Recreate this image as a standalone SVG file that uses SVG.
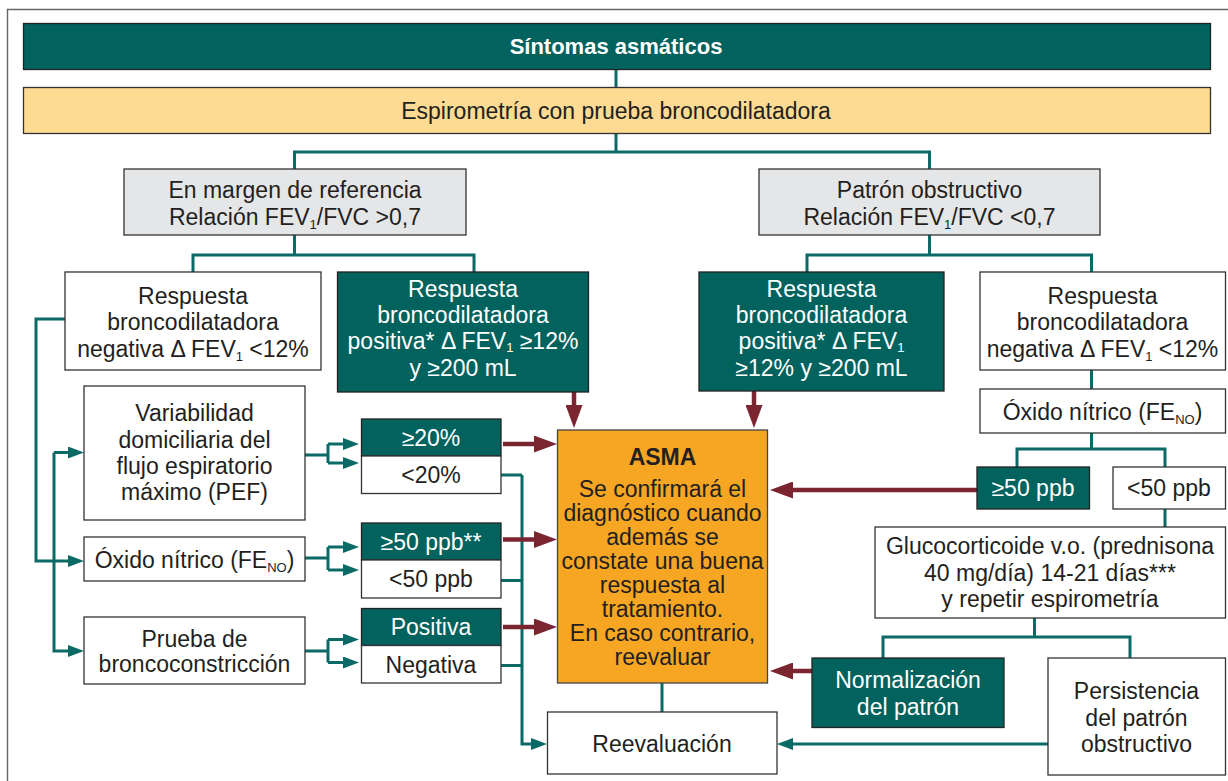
<svg xmlns="http://www.w3.org/2000/svg" width="1228" height="781" viewBox="0 0 1228 781">
<defs>
<style>
text{font-family:"Liberation Sans",Arial,sans-serif;font-size:23px;fill:#231f20;text-anchor:middle}
.w{fill:#fff}
.b{font-weight:bold}
.sub{font-size:13px}
.box{fill:#fff;stroke:#333;stroke-width:1.3}
.teal{fill:#02625e;stroke:#222;stroke-width:1.3}
.gray{fill:#e5e6e8;stroke:#333;stroke-width:1.3}
.yel{fill:#fddb93;stroke:#333;stroke-width:1.3}
.org{fill:#f6a623;stroke:#444;stroke-width:1.3}
.c{fill:none;stroke:#0b6a66;stroke-width:3}
.ca{fill:none;stroke:#0b6a66;stroke-width:3;marker-end:url(#ta)}
.r{fill:none;stroke:#7b2531;stroke-width:4.5;marker-end:url(#ra)}
</style>
<marker id="ta" markerUnits="userSpaceOnUse" markerWidth="16" markerHeight="12" refX="1" refY="6" orient="auto"><path d="M0,0 L16,6 L0,12 z" fill="#0b6a66"/></marker>
<marker id="ra" markerUnits="userSpaceOnUse" markerWidth="23" markerHeight="17" refX="1" refY="8.5" orient="auto"><path d="M0,0 L23,8.5 L0,17 z" fill="#7b2531"/></marker>
</defs>
<rect width="1228" height="781" fill="#fff"/>
<path d="M7.5,781 V9.5 H1228" fill="none" stroke="#666" stroke-width="1.4"/>

<g id="connectors">
<path class="c" d="M616,69 V88"/>
<path class="c" d="M616,133 V152 M294.5,169 V152 H929.5 V169"/>
<path class="c" d="M294.5,235 V255 M193,272 V255 H474 V272"/>
<path class="c" d="M929.5,235 V255 M807,272 V255 H1091.5 V272"/>
<path class="c" d="M1091.5,370 V389"/>
<path class="c" d="M1091.5,433 V449 M1017,467 V449 H1165 V467"/>
<path class="c" d="M1165,509 V527"/>
<path class="c" d="M1034.5,618 V637 M883,658 V637 H1130 V658"/>
<path class="c" d="M662,683 V712"/>
<path class="ca" d="M1048,744 H792"/>
<path class="ca" d="M65,319 H36 V561 H69"/>
<path class="ca" d="M54,452.5 H69"/>
<path class="ca" d="M54,452.5 V651 H69"/>
<path class="c" d="M305,455 H328 M328,444 V463"/>
<path class="ca" d="M328,444 H344"/>
<path class="ca" d="M328,463 H344"/>
<path class="c" d="M305,558 H328 M328,547 V570"/>
<path class="ca" d="M328,547 H344"/>
<path class="ca" d="M328,570 H344"/>
<path class="c" d="M305,651 H328 M328,639.5 V662.5"/>
<path class="ca" d="M328,639.5 H344"/>
<path class="ca" d="M328,662.5 H344"/>
<path class="c" d="M501,475 H522 M501,580.5 H522 M501,665.5 H522"/>
<path class="ca" d="M522,475 V744 H532"/>
<path class="r" d="M503,444 H535"/>
<path class="r" d="M503,539.5 H535"/>
<path class="r" d="M503,627 H535"/>
<path class="r" d="M574,392 V406"/>
<path class="r" d="M754,391 V406"/>
<path class="r" d="M977,490 H792"/>
<path class="r" d="M812,671 H792"/>
</g>

<g id="n-sintomas"><rect class="teal" x="23.5" y="23.5" width="1187" height="46"/><text class="w b" x="616" y="54" style="font-size:22px">Síntomas asmáticos</text></g>
<g id="n-espirometria"><rect class="yel" x="23.5" y="87.5" width="1187" height="46"/><text x="616" y="118.5">Espirometría con prueba broncodilatadora</text></g>
<g id="n-margen"><rect class="gray" x="124" y="169" width="342" height="66"/><text x="295" y="197.5">En margen de referencia</text><text x="295" y="224.5">Relación FEV<tspan class="sub" dy="4">1</tspan><tspan dy="-4">/FVC &gt;0,7</tspan></text></g>
<g id="n-obstructivo"><rect class="gray" x="759" y="169" width="341" height="66"/><text x="929.5" y="197.5">Patrón obstructivo</text><text x="929.5" y="224.5">Relación FEV<tspan class="sub" dy="4">1</tspan><tspan dy="-4">/FVC &lt;0,7</tspan></text></g>
<g id="n-negL"><rect class="box" x="65" y="272" width="256" height="98"/><text x="193" y="304">Respuesta</text><text x="193" y="330">broncodilatadora</text><text x="193" y="356.5">negativa Δ FEV<tspan class="sub" dy="4">1</tspan><tspan dy="-4"> &lt;12%</tspan></text></g>
<g id="n-posL"><rect class="teal" x="337.5" y="272" width="251" height="120"/><text class="w" x="463" y="297">Respuesta</text><text class="w" x="463" y="323">broncodilatadora</text><text class="w" x="463" y="349">positiva* Δ FEV<tspan class="sub" dy="3">1</tspan><tspan dy="-3"> ≥12%</tspan></text><text class="w" x="463" y="376">y ≥200 mL</text></g>
<g id="n-posR"><rect class="teal" x="699" y="272" width="245" height="119"/><text class="w" x="821.5" y="297">Respuesta</text><text class="w" x="821.5" y="323">broncodilatadora</text><text class="w" x="821.5" y="349">positiva* Δ FEV<tspan class="sub" dy="3">1</tspan></text><text class="w" x="821.5" y="376">≥12% y ≥200 mL</text></g>
<g id="n-negR"><rect class="box" x="980" y="272" width="245.5" height="98"/><text x="1102.5" y="304">Respuesta</text><text x="1102.5" y="330">broncodilatadora</text><text x="1102.5" y="356.5">negativa Δ FEV<tspan class="sub" dy="4">1</tspan><tspan dy="-4"> &lt;12%</tspan></text></g>
<g id="n-oxidoR"><rect class="box" x="980" y="389" width="245.5" height="44"/><text x="1102.5" y="419.5">Óxido nítrico (FE<tspan class="sub" dy="4">NO</tspan><tspan dy="-4">)</tspan></text></g>
<g id="n-ge50R"><rect class="teal" x="977" y="467" width="112.5" height="42"/><text class="w" x="1033" y="496">≥50 ppb</text></g>
<g id="n-lt50R"><rect class="box" x="1113" y="467" width="112.5" height="42"/><text x="1169" y="496">&lt;50 ppb</text></g>
<g id="n-asma"><rect class="org" x="557.5" y="430" width="210" height="253"/><text class="b" x="662.5" y="465">ASMA</text><text x="662.5" y="497">Se confirmará el</text><text x="662.5" y="521">diagnóstico cuando</text><text x="662.5" y="545">además se</text><text x="662.5" y="569">constate una buena</text><text x="662.5" y="593">respuesta al</text><text x="662.5" y="616.5">tratamiento.</text><text x="662.5" y="640.5">En caso contrario,</text><text x="662.5" y="664.5">reevaluar</text></g>
<g id="n-variabilidad"><rect class="box" x="84" y="386" width="221" height="134"/><text x="194.5" y="421">Variabilidad</text><text x="194.5" y="447.5">domiciliaria del</text><text x="194.5" y="474">flujo espiratorio</text><text x="194.5" y="500">máximo (PEF)</text></g>
<g id="n-ge20"><rect class="teal" x="361.5" y="419" width="139.5" height="37"/><text class="w" x="431" y="445.5">≥20%</text></g>
<g id="n-lt20"><rect class="box" x="361.5" y="456" width="139.5" height="37.5"/><text x="431" y="482.5">&lt;20%</text></g>
<g id="n-oxidoL"><rect class="box" x="84" y="537" width="221" height="44"/><text x="194.5" y="567.5">Óxido nítrico (FE<tspan class="sub" dy="4">NO</tspan><tspan dy="-4">)</tspan></text></g>
<g id="n-ge50L"><rect class="teal" x="361.5" y="523" width="139.5" height="37"/><text class="w" x="431" y="550">≥50 ppb**</text></g>
<g id="n-lt50L"><rect class="box" x="361.5" y="560" width="139.5" height="38"/><text x="431" y="587">&lt;50 ppb</text></g>
<g id="n-prueba"><rect class="box" x="84" y="617" width="221" height="67"/><text x="194.5" y="646.5">Prueba de</text><text x="194.5" y="672">broncoconstricción</text></g>
<g id="n-positiva"><rect class="teal" x="361.5" y="608.5" width="139.5" height="37"/><text class="w" x="431" y="635">Positiva</text></g>
<g id="n-negativa"><rect class="box" x="361.5" y="645.5" width="139.5" height="37.5"/><text x="431" y="672.5">Negativa</text></g>
<g id="n-reevaluacion"><rect class="box" x="547.5" y="712" width="229.5" height="62"/><text x="662" y="752">Reevaluación</text></g>
<g id="n-gluco"><rect class="box" x="875" y="527" width="350.5" height="91"/><text x="1050" y="554">Glucocorticoide v.o. (prednisona</text><text x="1050" y="580.5">40 mg/día) 14-21 días***</text><text x="1050" y="607">y repetir espirometría</text></g>
<g id="n-normalizacion"><rect class="teal" x="812" y="658" width="192" height="69.5"/><text class="w" x="908" y="688">Normalización</text><text class="w" x="908" y="715">del patrón</text></g>
<g id="n-persistencia"><rect class="box" x="1048" y="658" width="177.5" height="117"/><text x="1136.5" y="699">Persistencia</text><text x="1136.5" y="725.5">del patrón</text><text x="1136.5" y="752">obstructivo</text></g>
</svg>
